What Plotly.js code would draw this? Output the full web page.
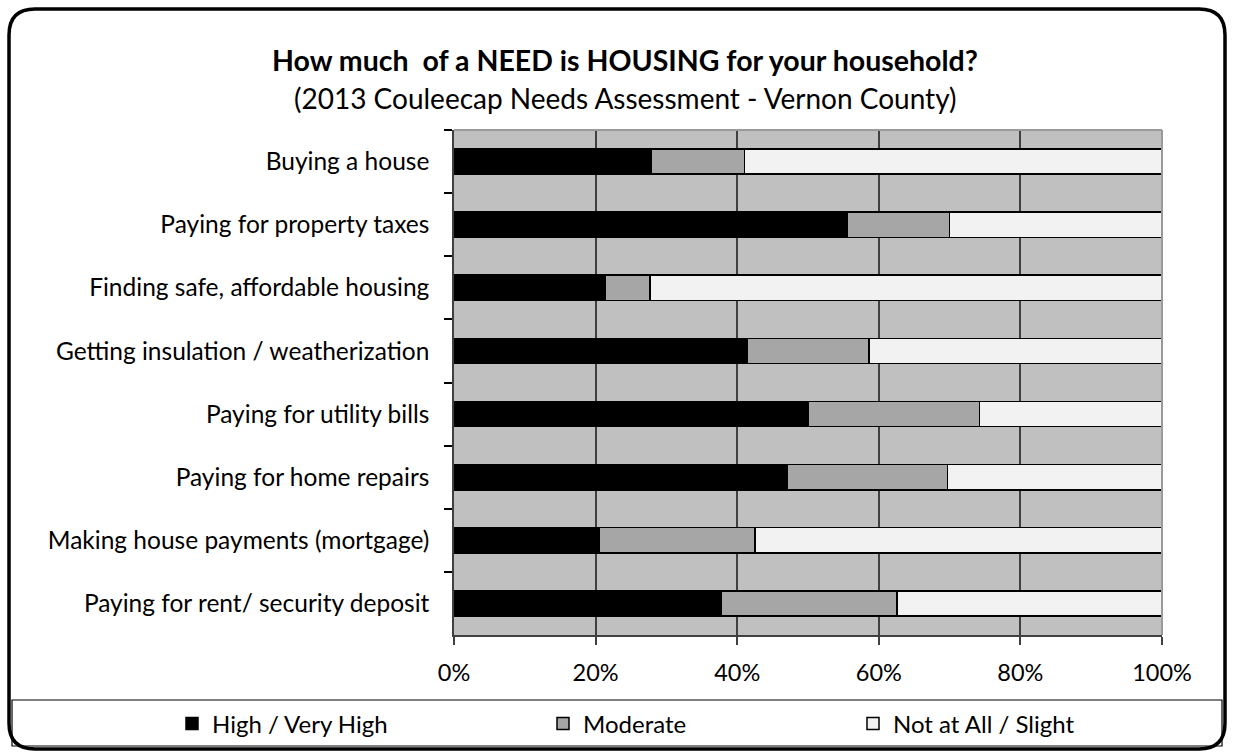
<!DOCTYPE html>
<html>
<head>
<meta charset="utf-8">
<script src="https://cdn.plot.ly/plotly-3.0.1.min.js"></script>
<style>
html,body{margin:0;padding:0;background:#fff;}
#chart{width:1233px;height:753px;}
</style>
</head>
<body>
<div id="chart"></div>
<script>
// ---- data ----
var categories = [
  "Buying a house",
  "Paying for property taxes",
  "Finding safe, affordable housing",
  "Getting insulation / weatherization",
  "Paying for utility bills",
  "Paying for home repairs",
  "Making house payments (mortgage)",
  "Paying for rent/ security deposit"
];
var seriesNames = ["High / Very High", "Moderate", "Not at All / Slight"];
var highVeryHigh = [27.9, 55.6, 21.4, 41.4, 50.1, 47.0, 20.5, 37.7];
var moderate     = [13.1, 14.4, 6.3, 17.2, 24.1, 22.7, 22.0, 24.9];
var notAtAll     = [59.0, 30.0, 72.3, 41.4, 25.8, 30.3, 57.5, 37.4];
var tickVals = [0, 20, 40, 60, 80, 100];
var tickText = ["0%", "20%", "40%", "60%", "80%", "100%"];

var titleText = "How much  of a NEED is HOUSING for your household?";
var subtitleText = "(2013 Couleecap Needs Assessment - Vernon County)";

// ---- geometry helpers (pixel -> paper) ----
var W = 1233, H = 753;
var L = 454, R = 1162, T = 130, B = 635;
function px(x){ return (x - L) / (R - L); }
function py(y){ return (B - y) / (B - T); }

var FONT = "Lato, 'Open Sans', sans-serif";
var colors = ["#000000", "#a6a6a6", "#f2f2f2"];
var seriesVals = [highVeryHigh, moderate, notAtAll];
var legendIds = ["legend", "legend2", "legend3"];

var traces = seriesVals.map(function(v, i){
  return {
    type: "bar",
    orientation: "h",
    name: seriesNames[i],
    x: v,
    y: categories,
    marker: {color: colors[i], line: {color: "#000000", width: 1.5}},
    legend: legendIds[i],
    hoverinfo: "x+y+name"
  };
});

// rounded outer border
function roundRect(x0, y0, x1, y1, r){
  return "M" + px(x0 + r) + "," + py(y0) +
    " L" + px(x1 - r) + "," + py(y0) +
    " Q" + px(x1) + "," + py(y0) + " " + px(x1) + "," + py(y0 + r) +
    " L" + px(x1) + "," + py(y1 - r) +
    " Q" + px(x1) + "," + py(y1) + " " + px(x1 - r) + "," + py(y1) +
    " L" + px(x0 + r) + "," + py(y1) +
    " Q" + px(x0) + "," + py(y1) + " " + px(x0) + "," + py(y1 - r) +
    " L" + px(x0) + "," + py(y0 + r) +
    " Q" + px(x0) + "," + py(y0) + " " + px(x0 + r) + "," + py(y0) + " Z";
}

var legendFont = {family: FONT, size: 24, color: "#000"};
function legendAt(xpix){
  return {
    x: px(xpix), xanchor: "left", xref: "paper",
    y: py(724), yanchor: "middle", yref: "paper",
    orientation: "h",
    bgcolor: "rgba(0,0,0,0)",
    borderwidth: 0,
    font: legendFont,
    itemclick: false, itemdoubleclick: false
  };
}

var layout = {
  width: W, height: H,
  margin: {l: L, r: W - R, t: T, b: H - B, pad: 0, autoexpand: false},
  paper_bgcolor: "#ffffff",
  plot_bgcolor: "#c0c0c0",
  barmode: "stack",
  bargap: 0.6,
  showlegend: true,
  font: {family: FONT, size: 24, color: "#000"},
  xaxis: {
    range: [0, 100],
    tickvals: tickVals, ticktext: tickText,
    showgrid: true, gridcolor: "#404040", gridwidth: 1.5,
    zeroline: false,
    showline: true, linecolor: "#404040", linewidth: 1.5,
    ticks: "outside", ticklen: 8, tickcolor: "#404040", tickwidth: 1.5,
    ticklabelstandoff: 8,
    tickfont: {family: FONT, size: 23.5, color: "#000"},
    fixedrange: true, automargin: false
  },
  yaxis: {
    type: "category",
    categoryorder: "array", categoryarray: categories,
    autorange: "reversed",
    showgrid: false, zeroline: false,
    showline: true, linecolor: "#404040", linewidth: 1.5,
    ticks: "outside", tickson: "boundaries", ticklen: 8, tickcolor: "#000", tickwidth: 1.5,
    ticklabelstandoff: 18,
    tickfont: {family: FONT, size: 24.5, color: "#000"},
    fixedrange: true, automargin: false
  },
  legend: legendAt(172),
  legend2: legendAt(543),
  legend3: legendAt(853),
  annotations: [
    {text: "<b>" + titleText + "</b>", xref: "paper", yref: "paper",
     x: px(625), y: py(60), xanchor: "center", yanchor: "middle", showarrow: false,
     font: {family: FONT, size: 28.5, color: "#000"}},
    {text: subtitleText, xref: "paper", yref: "paper",
     x: px(625), y: py(98), xanchor: "center", yanchor: "middle", showarrow: false,
     font: {family: FONT, size: 28, color: "#000"}}
  ],
  shapes: [
    // top and right plot edges (gray)
    {type: "line", xref: "paper", yref: "paper", x0: 0, x1: 1, y0: 1, y1: 1,
     line: {color: "#9a9a9a", width: 2}, layer: "above"},
    {type: "line", xref: "paper", yref: "paper", x0: 1, x1: 1, y0: 0, y1: 1,
     line: {color: "#9a9a9a", width: 2}, layer: "above"},
    // legend box
    {type: "rect", xref: "paper", yref: "paper",
     x0: px(12), x1: px(1222), y0: py(700), y1: py(746),
     line: {color: "#000", width: 1.2}, fillcolor: "rgba(0,0,0,0)", layer: "above"},
    // outer rounded border
    {type: "path", xref: "paper", yref: "paper",
     path: roundRect(9, 9, 1225, 749, 26),
     line: {color: "#000", width: 3.5}, fillcolor: "rgba(0,0,0,0)", layer: "above"}
  ]
};

Plotly.newPlot("chart", traces, layout, {displayModeBar: false, staticPlot: false});
</script>
</body>
</html>
